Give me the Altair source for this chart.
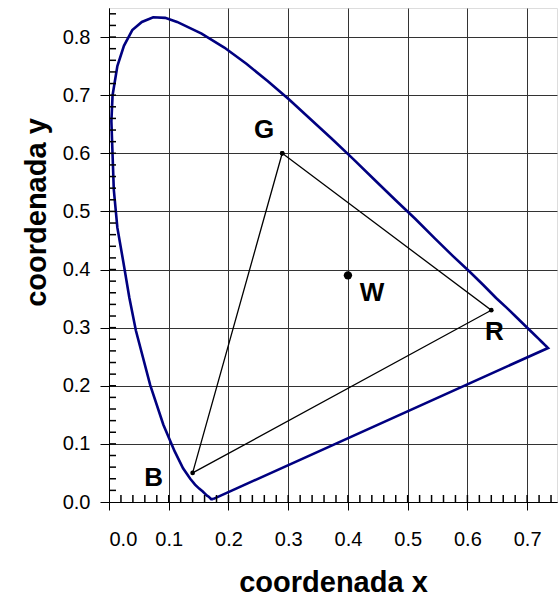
import altair as alt
import pandas as pd

FONT = "Liberation Sans"

# Spectral locus, closed by the purple line back to the start
locus_x = [0.174, 0.174, 0.174, 0.174, 0.173, 0.173, 0.173, 0.172, 0.171, 0.170,
           0.169, 0.167, 0.164, 0.161, 0.157, 0.151, 0.144, 0.136, 0.124, 0.110,
           0.091, 0.069, 0.045, 0.034, 0.024, 0.014, 0.008, 0.004, 0.006, 0.014,
           0.025, 0.039, 0.055, 0.074, 0.094, 0.114,
           0.155, 0.193, 0.230, 0.266, 0.302, 0.337, 0.373, 0.409, 0.444, 0.479,
           0.513, 0.545, 0.575, 0.603, 0.627, 0.648, 0.666, 0.680, 0.692, 0.701,
           0.708, 0.714, 0.719, 0.723, 0.726, 0.730, 0.732, 0.733, 0.735, 0.174]
locus_y = [0.005, 0.005, 0.005, 0.005, 0.005, 0.005, 0.005, 0.005, 0.005, 0.006,
           0.007, 0.009, 0.011, 0.014, 0.018, 0.023, 0.030, 0.040, 0.058, 0.087,
           0.133, 0.201, 0.295, 0.352, 0.413, 0.472, 0.538, 0.655, 0.700, 0.750,
           0.785, 0.812, 0.826, 0.834, 0.833, 0.826,
           0.806, 0.782, 0.754, 0.724, 0.692, 0.659, 0.625, 0.590, 0.555, 0.520,
           0.487, 0.454, 0.424, 0.397, 0.373, 0.351, 0.334, 0.320, 0.308, 0.299,
           0.292, 0.286, 0.281, 0.277, 0.274, 0.270, 0.268, 0.267, 0.265, 0.005]

# Primaries (triangle G -> R -> B -> G) and white point
prim_names = ["G", "R", "B", "G"]
prim_x = [0.29, 0.64, 0.14, 0.29]
prim_y = [0.60, 0.33, 0.05, 0.60]
white_name = ["W"]
white_x = [0.40]
white_y = [0.39]

x_ticks = [0.0, 0.1, 0.2, 0.3, 0.4, 0.5, 0.6, 0.7]
y_ticks = [0.0, 0.1, 0.2, 0.3, 0.4, 0.5, 0.6, 0.7, 0.8]
x_minor = [round(i * 0.02, 2) for i in range(1, 38)]
y_minor = [round(i * 0.02, 2) for i in range(1, 43)]

W, H = 448, 494

locus = pd.DataFrame({"x": locus_x, "y": locus_y, "i": range(len(locus_x))})
tri = pd.DataFrame({"x": prim_x, "y": prim_y, "name": prim_names, "i": range(len(prim_x))})
white = pd.DataFrame({"x": white_x, "y": white_y, "name": white_name})
xminor_df = pd.DataFrame({"x": x_minor})
yminor_df = pd.DataFrame({"y": y_minor})

xscale = alt.Scale(domain=[0, 0.75], nice=False, zero=False)
yscale = alt.Scale(domain=[0, 0.85], nice=False, zero=False)

x_axis = alt.Axis(
    values=x_ticks, format=".1f", title="coordenada x", grid=True,
    gridColor="#333333", gridWidth=1, tickSize=8, tickColor="black", tickWidth=1,
    domainColor="black", domainWidth=1,
    labelFont=FONT, labelFontSize=20, labelColor="black", labelPadding=19,
    titleFont=FONT, titleFontSize=29, titleFontWeight="bold", titleColor="black",
    titleBaseline="alphabetic", titleY=89,
)
y_axis = alt.Axis(
    values=y_ticks, format=".1f", title="coordenada y", grid=True,
    gridColor="#333333", gridWidth=1, tickSize=9, tickColor="black", tickWidth=1,
    domainColor="black", domainWidth=1,
    labelFont=FONT, labelFontSize=20, labelColor="black", labelPadding=10,
    titleFont=FONT, titleFontSize=29, titleFontWeight="bold", titleColor="black",
    titleBaseline="alphabetic", titleAngle=270, titleX=-64, titleY=204,
)

X = lambda: alt.X("x:Q", scale=xscale, axis=None)
Y = lambda: alt.Y("y:Q", scale=yscale, axis=None)

locus_line = alt.Chart(locus).mark_line(color="#000080", strokeWidth=2.6).encode(
    x=alt.X("x:Q", scale=xscale, axis=x_axis),
    y=alt.Y("y:Q", scale=yscale, axis=y_axis),
    order="i:Q",
)

# minor ticks drawn inward from the left and bottom axes
xminor_rules = alt.Chart(xminor_df).mark_rule(color="black", strokeWidth=1.5).encode(
    x=X(), y=alt.value(H), y2=alt.value(H - 7)
)
yminor_rules = alt.Chart(yminor_df).mark_rule(color="black", strokeWidth=1.5).encode(
    y=Y(), x=alt.value(0), x2=alt.value(7)
)

tri_line = alt.Chart(tri).mark_line(color="black", strokeWidth=1.3).encode(
    x=X(), y=Y(), order="i:Q"
)
tri_pts = alt.Chart(tri).mark_circle(color="black", size=22, opacity=1).encode(
    x=X(), y=Y()
)
white_pt = alt.Chart(white).mark_circle(color="black", size=70, opacity=1).encode(
    x=X(), y=Y()
)

label_offsets = {"G": (-18, -23), "R": (3, 22), "B": (-39, 5), "W": (24, 18)}
label_layers = []
for nm, (ddx, ddy) in label_offsets.items():
    src = white if nm == "W" else tri.iloc[:3]
    label_layers.append(
        alt.Chart(src).transform_filter(alt.datum.name == nm).mark_text(
            font=FONT, fontSize=26, fontWeight="bold", color="black",
            dx=ddx, dy=ddy, align="center", baseline="middle",
        ).encode(x=X(), y=Y(), text="name:N")
    )

chart = alt.layer(
    locus_line, xminor_rules, yminor_rules, tri_line, tri_pts, white_pt, *label_layers
).resolve_axis(
    x="independent", y="independent"
).properties(
    width=W, height=H,
    autosize=alt.AutoSizeParams(type="none"),
    padding={"left": 109, "top": 8, "right": 1, "bottom": 98},
).configure_view(
    stroke="#808080", strokeWidth=1
).configure(background="white")

chart.save("out.html", embed_options={"renderer": "svg", "actions": False})
